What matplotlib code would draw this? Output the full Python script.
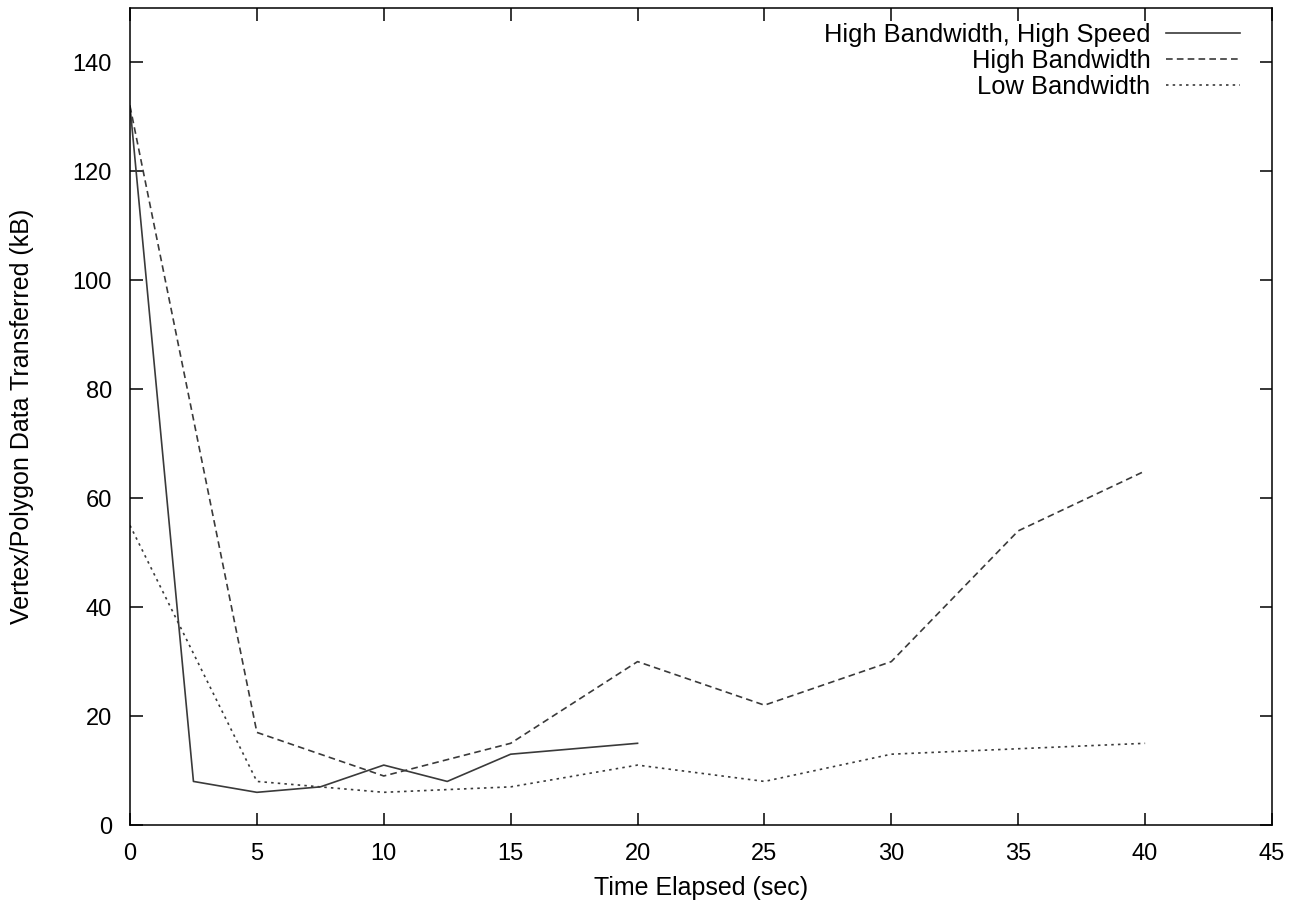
import matplotlib
matplotlib.use("Agg")
import matplotlib.pyplot as plt

plt.rcParams['font.family'] = ['Liberation Sans', 'DejaVu Sans']

# data (time in sec, kB transferred)
hbhs_time = [0, 2.5, 5, 7.5, 10, 12.5, 15, 20]
hbhs_kb = [132, 8, 6, 7, 11, 8, 13, 15]

hb_time = [0, 5, 10, 15, 20, 25, 30, 35, 40]
hb_kb = [132, 17, 9, 15, 30, 22, 30, 54, 65]

lb_time = [0, 5, 10, 15, 20, 25, 30, 35, 40]
lb_kb = [55, 8, 6, 7, 11, 8, 13, 14, 15]

labels = ["High Bandwidth, High Speed", "High Bandwidth", "Low Bandwidth"]

fig = plt.figure(figsize=(13.02, 9.09), dpi=100)
ax = fig.add_axes([130 / 1302, 1 - 825 / 909, 1142 / 1302, 817 / 909])

col = '#3a3a3a'
ax.plot(hbhs_time, hbhs_kb, color=col, lw=1.2, ls='-', label=labels[0])
ax.plot(hb_time, hb_kb, color=col, lw=1.2, ls=(0, (4, 2.5)), label=labels[1])
ax.plot(lb_time, lb_kb, color=col, lw=1.2, ls=(0, (1.5, 2.5)), label=labels[2])

ax.set_xlim(0, 45)
ax.set_ylim(0, 150)
ax.set_xticks(range(0, 46, 5))
ax.set_yticks(range(0, 141, 20))
ax.tick_params(direction='in', length=9, width=1.1, top=True, right=True,
               labelsize=17, pad=13)
for s in ax.spines.values():
    s.set_linewidth(1.1)

ax.set_xlabel("Time Elapsed (sec)", fontsize=18, labelpad=8)
ax.set_ylabel("Vertex/Polygon Data Transferred (kB)", fontsize=18, labelpad=28)

ax.legend(loc='upper right', bbox_to_anchor=(1 - 32 / 1142, 1 - 15 / 817),
          frameon=False, markerfirst=False, fontsize=18.4, borderpad=0,
          borderaxespad=0, handlelength=2.9, handletextpad=0.6,
          labelspacing=0.07)

fig.savefig("out.png", dpi=100)
